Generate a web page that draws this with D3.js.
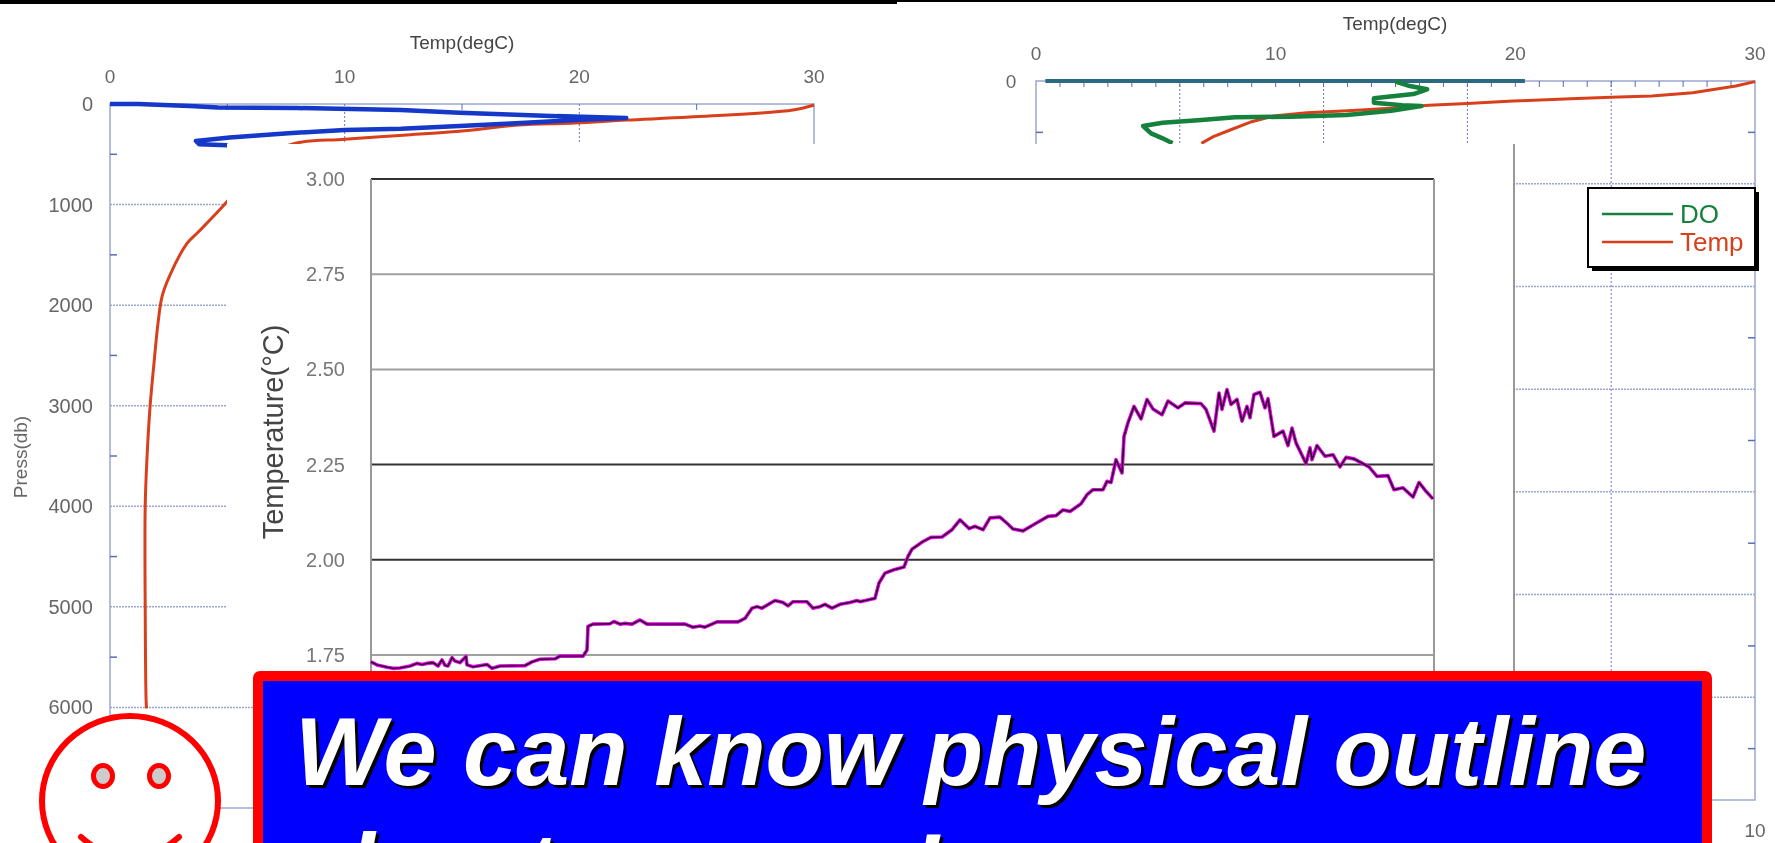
<!DOCTYPE html>
<html>
<head>
<meta charset="utf-8">
<script src="https://cdn.jsdelivr.net/npm/d3@7"></script>
<style>
html, body { margin: 0; padding: 0; background: #fff; overflow: hidden; }
svg { display: block; font-family: "Liberation Sans", Arial, sans-serif; }
</style>
</head>
<body>
<script>
// left profile (temp degC, press db)
const leftTempT = [30, 29.1, 24.7, 22, 19.8, 17.4, 14.9, 12.5, 10, 7.9, 6.9, 5.9, 4.83, 3.77, 3.29, 2.56, 2.22, 2.05, 1.88, 1.71, 1.58, 1.5, 1.5, 1.54, 1.56];
const leftTempP = [10, 60, 130, 160, 190, 210, 270, 310, 350, 390, 490, 720, 1012, 1271, 1384, 1698, 1912, 2171, 2565, 3000, 3500, 4000, 5000, 5940, 6010];
const leftBlueT = [0, 1.2, 3.4, 4.6, 8, 12.4, 14.9, 17.3, 18.8, 22, 19.8, 17.3, 14.9, 12.4, 10, 7.6, 5.1, 3.66, 3.8, 5];
const leftBlueP = [0, 0, 20, 36, 40, 60, 86, 106, 119, 139, 159, 192, 218, 245, 258, 291, 334, 367, 400, 410];

// right profile
const rightTempT = [30, 29.2, 27.4, 25.7, 24, 22.3, 19.9, 18, 16.4, 14.8, 13, 11.3, 9.9, 9, 8.1, 7.4, 6.9];
const rightTempP = [6, 49, 114, 146, 159, 172, 195, 218, 237, 266, 289, 308, 341, 396, 477, 542, 607];
const rightDoV = [5, 5.2, 5.44, 5.25, 4.7, 4.7, 5.09, 5.36, 4.94, 4.32, 3.54, 2.77, 2.3, 1.76, 1.49, 1.6, 1.76, 1.9];
const rightDoP = [6, 49, 81, 127, 169, 211, 237, 244, 289, 331, 347, 354, 380, 406, 438, 510, 558, 607];
const rightSurfaceV = [0.13, 6.8];
const rightSurfaceP = [0, 0];

// section chart in the middle
const sectionX = [0, 6, 16, 22, 29, 39, 46, 51, 56, 62, 67, 71, 74, 77, 81, 84, 89, 95, 96, 102, 116, 121, 129, 154, 161, 169, 184, 189, 212, 216, 217, 222, 239, 243, 249, 254, 261, 269, 276, 314, 322, 329, 334, 346, 367, 374, 381, 386, 391, 404, 412, 417, 422, 436, 442, 449, 454, 461, 469, 479, 486, 489,
  504, 508, 514, 523, 533, 537, 541, 552, 560, 571, 581, 589, 598, 604, 612, 619, 629, 636, 642, 652, 665, 677, 685, 692, 699, 710, 716, 722, 732, 736, 740, 745, 751, 753, 757, 763, 770, 776, 782, 791, 797, 807, 814, 830, 835, 843, 848, 851, 856, 860, 866, 871, 876, 879, 883, 889, 894, 897, 903, 912, 917, 921, 925, 935, 939, 941, 946, 954, 962, 969, 975, 983, 998, 1006, 1017, 1023, 1032, 1042, 1048, 1055, 1062];
const sectionT = [1.732, 1.724, 1.718, 1.715, 1.716, 1.721, 1.728, 1.725, 1.728, 1.73, 1.721, 1.737, 1.723, 1.721, 1.743, 1.734, 1.73, 1.746, 1.724, 1.719, 1.725, 1.715, 1.721, 1.722, 1.732, 1.739, 1.74, 1.747, 1.747, 1.763, 1.825, 1.831, 1.832, 1.838, 1.831, 1.833, 1.831, 1.842, 1.831, 1.831, 1.823, 1.826, 1.823, 1.837, 1.837, 1.846, 1.873, 1.877, 1.873, 1.893, 1.888, 1.879, 1.89, 1.89, 1.873, 1.877, 1.883, 1.873, 1.883, 1.888, 1.893, 1.89,
  1.899, 1.939, 1.965, 1.974, 1.981, 2.009, 2.028, 2.048, 2.059, 2.06, 2.079, 2.105, 2.082, 2.088, 2.079, 2.11, 2.112, 2.096, 2.081, 2.076, 2.096, 2.114, 2.116, 2.131, 2.127, 2.147, 2.171, 2.184, 2.184, 2.206, 2.203, 2.263, 2.228, 2.324, 2.36, 2.403, 2.37, 2.421, 2.396, 2.381, 2.417, 2.399, 2.412, 2.41, 2.395, 2.338, 2.438, 2.395, 2.447, 2.408, 2.421, 2.364, 2.403, 2.373, 2.434, 2.44, 2.399, 2.423, 2.324, 2.338, 2.3, 2.346, 2.307, 2.253, 2.294, 2.263, 2.3, 2.272, 2.276, 2.244, 2.269, 2.265, 2.244, 2.219, 2.221, 2.184, 2.189, 2.165, 2.203, 2.18, 2.16];

const tempTicks = [0, 10, 20, 30];
const pressTicks = [0, 1000, 2000, 3000, 4000, 5000, 6000];
const sectionTicks = [1.75, 2.00, 2.25, 2.50, 2.75, 3.00];
const darkGrid = [2.00, 2.25, 3.00];
const legendLabels = ["DO", "Temp"];
const banner = ["We can know physical outline", "about oceans!"];

const width = 1775, height = 843;
const axisBlue = "#9aa6d0", labelGrey = "#666";

const svg = d3.select("body").append("svg").attr("width", width).attr("height", height);
svg.append("rect").attr("width", width).attr("height", height).attr("fill", "#fff");
svg.append("rect").attr("width", 897).attr("height", 4).attr("fill", "#000");
svg.append("rect").attr("x", 897).attr("width", 878).attr("height", 2).attr("fill", "#000");

// the source is a soft scan, so the chart groups get a slight blur
svg.append("defs").append("filter").attr("id", "soft")
    .attr("filterUnits", "userSpaceOnUse")
    .attr("x", 0).attr("y", 0).attr("width", width).attr("height", height)
  .append("feGaussianBlur").attr("stdDeviation", 0.55);

function frame(g, x, y, majorX, minorX, minorY) {
    const [x0, x1] = x.range();
    const [y0, y1] = y.range();
    g.append("rect").attr("x", x0).attr("y", y0).attr("width", x1 - x0).attr("height", y1 - y0)
        .attr("fill", "none").attr("stroke", axisBlue).attr("stroke-width", 1.5);
    g.selectAll(".vgrid").data(majorX).enter().append("line")
        .attr("x1", d => x(d)).attr("x2", d => x(d)).attr("y1", y0).attr("y2", y1)
        .attr("stroke", "#6a78b8").attr("stroke-width", 1).attr("stroke-dasharray", "2,2");
    g.selectAll(".hgrid").data(pressTicks.slice(1)).enter().append("line")
        .attr("x1", x0).attr("x2", x1).attr("y1", d => y(d)).attr("y2", d => y(d))
        .attr("stroke", "#9aa5d0").attr("stroke-width", 1.5).attr("stroke-dasharray", "2,1");
    g.selectAll(".mtickx").data(minorX).enter().append("line")
        .attr("x1", d => x(d)).attr("x2", d => x(d)).attr("y1", y0).attr("y2", y0 + 6)
        .attr("stroke", "#5c6cb8").attr("stroke-width", 1);
    [[x0, x0 + 7], [x1, x1 - 7]].forEach(ends => {
        g.selectAll(".mticky" + ends[0]).data(minorY).enter().append("line")
            .attr("x1", ends[0]).attr("x2", ends[1]).attr("y1", d => y(d)).attr("y2", d => y(d))
            .attr("stroke", "#5c6cb8").attr("stroke-width", 1.5);
    });
    g.selectAll(".tlabel").data(tempTicks).enter().append("text")
        .attr("x", d => x(d)).attr("y", y0 - 28).attr("dy", "0.35em")
        .attr("text-anchor", "middle").attr("font-size", 19).attr("fill", labelGrey).text(d => d);
}

function trace(g, xs, ys, x, y, color, w, curve) {
    const line = d3.line().x(d => x(d[0])).y(d => y(d[1])).curve(curve || d3.curveLinear);
    g.append("path").datum(xs.map((v, i) => [v, ys[i]]))
        .attr("d", line).attr("fill", "none").attr("stroke", color)
        .attr("stroke-width", w).attr("stroke-linejoin", "round");
}

// left chart
const lx = d3.scaleLinear().domain([0, 30]).range([110, 814]);
const ly = d3.scaleLinear().domain([0, 7000]).range([104, 808]);
const left = svg.append("g").attr("filter", "url(#soft)");
frame(left, lx, ly, [10, 20], [5, 15, 25], [500, 1500, 2500, 3500, 4500, 5500]);
left.selectAll(".plabel").data(pressTicks).enter().append("text")
    .attr("x", 93).attr("y", d => ly(d)).attr("dy", "0.35em")
    .attr("text-anchor", "end").attr("font-size", 20).attr("fill", labelGrey).text(d => d);
left.append("text").attr("transform", "translate(20,457) rotate(-90)")
    .attr("dy", "0.35em").attr("text-anchor", "middle").attr("font-size", 19).attr("fill", labelGrey).text("Press(db)");
left.append("text").attr("x", 462).attr("y", 42).attr("dy", "0.35em")
    .attr("text-anchor", "middle").attr("font-size", 19).attr("fill", "#444").text("Temp(degC)");
trace(left, leftTempT, leftTempP, lx, ly, "#d8401c", 3, d3.curveCatmullRom);
trace(left, leftBlueT, leftBlueP, lx, ly, "#1238c8", 4.5);

// right chart
const rx = d3.scaleLinear().domain([0, 30]).range([1036, 1755]);
const rdo = d3.scaleLinear().domain([0, 10]).range([1036, 1755]);
const ry = d3.scaleLinear().domain([0, 7000]).range([81, 800]);
const right = svg.append("g").attr("filter", "url(#soft)");
frame(right, rx, ry, [6, 12, 18, 24], d3.range(1, 30), [500, 1500, 2500, 3500, 4500, 5500, 6500]);
right.append("text").attr("x", 1395).attr("y", 23).attr("dy", "0.35em")
    .attr("text-anchor", "middle").attr("font-size", 19).attr("fill", "#444").text("Temp(degC)");
right.append("text").attr("x", 1011).attr("y", 81).attr("dy", "0.35em")
    .attr("text-anchor", "middle").attr("font-size", 19).attr("fill", labelGrey).text(0);
right.append("text").attr("x", rdo(10)).attr("y", 830).attr("dy", "0.35em")
    .attr("text-anchor", "middle").attr("font-size", 19).attr("fill", labelGrey).text(10);
trace(right, rightSurfaceV, rightSurfaceP, rdo, ry, "#2c6a82", 4);
trace(right, rightTempT, rightTempP, rx, ry, "#d8401c", 3);
trace(right, rightDoV, rightDoP, rdo, ry, "#16803c", 4.5);

// legend
const legend = right.append("g");
legend.append("rect").attr("x", 1592).attr("y", 192).attr("width", 167).attr("height", 79).attr("fill", "#000");
legend.append("rect").attr("x", 1588).attr("y", 188).attr("width", 167).attr("height", 79)
    .attr("fill", "#fff").attr("stroke", "#000").attr("stroke-width", 2);
legendLabels.forEach((name, i) => {
    const color = i === 0 ? "#16803c" : "#d8401c";
    const yy = 214 + i * 28;
    legend.append("line").attr("x1", 1602).attr("x2", 1673).attr("y1", yy).attr("y2", yy)
        .attr("stroke", color).attr("stroke-width", 2.5);
    legend.append("text").attr("x", 1680).attr("y", yy).attr("dy", "0.35em")
        .attr("font-size", 26).attr("fill", color).text(name);
});

// white panel over both profiles
svg.append("rect").attr("x", 227).attr("y", 144).attr("width", 1287).attr("height", 560).attr("fill", "#fff");
svg.append("line").attr("x1", 1514).attr("x2", 1514).attr("y1", 144).attr("y2", 680)
    .attr("stroke", "#777").attr("stroke-width", 1.5);

const sx = d3.scaleLinear().domain([0, 1063]).range([371, 1434]);
const sy = d3.scaleLinear().domain([1.75, 3]).range([655, 179]);
const section = svg.append("g").attr("filter", "url(#soft)");
section.selectAll(".sgrid").data(sectionTicks).enter().append("line")
    .attr("x1", 371).attr("x2", 1434).attr("y1", d => sy(d)).attr("y2", d => sy(d))
    .attr("stroke", d => darkGrid.includes(d) ? "#333" : "#a0a0a0").attr("stroke-width", 2);
section.selectAll(".slabel").data(sectionTicks).enter().append("text")
    .attr("x", 345).attr("y", d => sy(d)).attr("dy", "0.35em")
    .attr("text-anchor", "end").attr("font-size", 20).attr("fill", "#777").text(d => d.toFixed(2));
section.selectAll(".sedge").data([371, 1434]).enter().append("line")
    .attr("x1", d => d).attr("x2", d => d).attr("y1", 179).attr("y2", 680)
    .attr("stroke", "#999").attr("stroke-width", 2);
section.append("text").attr("transform", "translate(273,432) rotate(-90)")
    .attr("dy", "0.35em").attr("text-anchor", "middle").attr("font-size", 29).attr("fill", "#444")
    .text("Temperature(°C)");
trace(section, sectionX, sectionT, sx, sy, "#e800e8", 3.6);
trace(section, sectionX, sectionT, sx, sy, "#100010", 1.3);

// smiley
const smile = svg.append("g");
smile.append("ellipse").attr("cx", 130).attr("cy", 801).attr("rx", 88).attr("ry", 85)
    .attr("fill", "#fff").attr("stroke", "#f00").attr("stroke-width", 6);
smile.selectAll(".eye").data([103, 159]).enter().append("ellipse")
    .attr("cx", d => d).attr("cy", 776).attr("rx", 9.5).attr("ry", 10.5)
    .attr("fill", "#ccc").attr("stroke", "#f00").attr("stroke-width", 5);
smile.append("path").attr("d", "M81,837 Q130,880 179,837")
    .attr("fill", "none").attr("stroke", "#f00").attr("stroke-width", 6).attr("stroke-linecap", "round");

// blue banner
svg.append("rect").attr("x", 258).attr("y", 676).attr("width", 1449).attr("height", 220).attr("rx", 2)
    .attr("fill", "#00f").attr("stroke", "#f00").attr("stroke-width", 10);
const bannerText = svg.append("g").attr("font-size", 95.5).attr("font-weight", "bold").attr("font-style", "italic");
banner.forEach((t, i) => {
    const yy = 785 + i * 116;
    bannerText.append("text").attr("x", 298).attr("y", yy + 3).attr("fill", "#000").text(t);
    bannerText.append("text").attr("x", 295).attr("y", yy).attr("fill", "#fff").text(t);
});
</script>
</body>
</html>
